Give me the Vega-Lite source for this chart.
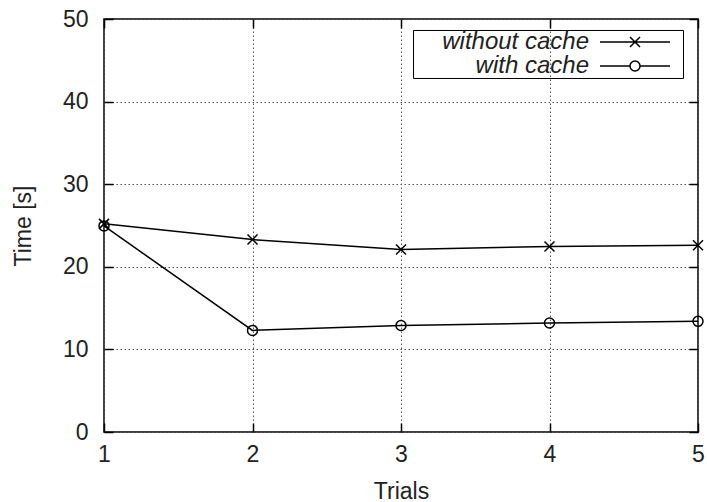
{
  "$schema": "https://vega.github.io/schema/vega-lite/v6.json",
  "width": 594,
  "height": 413,
  "autosize": "none",
  "padding": {"left": 104, "top": 19, "right": 9, "bottom": 70},
  "background": "white",
  "data": {
    "values": [
      {"trial": 1, "time": 25.2, "series": "without cache"},
      {"trial": 2, "time": 23.3, "series": "without cache"},
      {"trial": 3, "time": 22.1, "series": "without cache"},
      {"trial": 4, "time": 22.45, "series": "without cache"},
      {"trial": 5, "time": 22.6, "series": "without cache"},
      {"trial": 1, "time": 24.95, "series": "with cache"},
      {"trial": 2, "time": 12.3, "series": "with cache"},
      {"trial": 3, "time": 12.9, "series": "with cache"},
      {"trial": 4, "time": 13.2, "series": "with cache"},
      {"trial": 5, "time": 13.4, "series": "with cache"}
    ]
  },
  "config": {
    "font": "Liberation Sans",
    "view": {"stroke": "#000", "strokeWidth": 1.5},
    "axis": {
      "labelFont": "Liberation Sans",
      "titleFont": "Liberation Sans",
      "labelFontSize": 23,
      "titleFontSize": 23,
      "labelColor": "#222",
      "titleColor": "#222",
      "titleFontWeight": "normal",
      "domain": false,
      "tickColor": "#000",
      "tickWidth": 1.5,
      "tickSize": -9,
      "gridColor": "#555",
      "gridDash": [1.5, 2.5],
      "gridWidth": 1,
      "gridOpacity": 1
    }
  },
  "layer": [
    {
      "mark": {"type": "line", "strokeWidth": 1.5, "color": "#000"},
      "encoding": {
        "x": {
          "field": "trial", "type": "quantitative",
          "scale": {"domain": [1, 5], "nice": false, "zero": false},
          "axis": {"orient": "bottom", "values": [1, 2, 3, 4, 5], "format": "d", "grid": true, "labelPadding": 20, "labelFlush": false, "title": "Trials", "titleBaseline": "alphabetic", "titleY": 66}
        },
        "y": {
          "field": "time", "type": "quantitative",
          "scale": {"domain": [0, 50], "nice": false},
          "axis": {"orient": "left", "values": [0, 10, 20, 30, 40, 50], "grid": true, "labelPadding": 25, "labelFlush": false, "title": "Time [s]", "titleBaseline": "alphabetic", "titleX": -74}
        },
        "detail": {"field": "series", "type": "nominal"}
      }
    },
    {
      "mark": {"type": "point", "filled": false, "color": "#000", "strokeWidth": 1.5, "opacity": 1},
      "encoding": {
        "x": {
          "field": "trial", "type": "quantitative",
          "axis": {"orient": "top", "values": [1, 2, 3, 4, 5], "labels": false, "grid": false, "title": null}
        },
        "y": {
          "field": "time", "type": "quantitative",
          "axis": {"orient": "right", "values": [0, 10, 20, 30, 40, 50], "labels": false, "grid": false, "title": null}
        },
        "shape": {
          "field": "series", "type": "nominal",
          "scale": {"domain": ["without cache", "with cache"], "range": ["M-1,-1L1,1M-1,1L1,-1", "circle"]},
          "legend": null
        },
        "size": {"value": 100}
      }
    },
    {
      "mark": {"type": "point", "filled": false, "color": "#000", "strokeWidth": 1.5, "opacity": 0},
      "encoding": {
        "x": {"field": "trial", "type": "quantitative", "axis": null},
        "y": {"field": "time", "type": "quantitative", "axis": null},
        "shape": {
          "field": "series", "type": "nominal",
          "scale": {
            "domain": ["without cache", "with cache"],
            "range": [
              "M-7,0L7,0M-1,-1L1,1M-1,1L1,-1M9,0",
              "M-7,0L-1,0M1,0L7,0M1,0A1 1 0 1 1 -1 0A1 1 0 1 1 1 0M9,0"
            ]
          },
          "legend": {
            "title": null,
            "orient": "none",
            "legendX": 309,
            "legendY": 11,
            "padding": 0,
            "strokeColor": "#000",
            "labelFont": "Liberation Sans",
            "labelFontSize": 24,
            "labelFontStyle": "italic",
            "labelColor": "#222",
            "labelAlign": "right",
            "labelOffset": -58,
            "labelLimit": 300,
            "symbolSize": 100,
            "symbolOffset": 210,
            "rowPadding": 0,
            "symbolOpacity": 1,
            "symbolStrokeWidth": 1.5,
            "symbolStrokeColor": "#000",
            "symbolFillColor": "transparent"
          }
        }
      }
    }
  ],
  "resolve": {"axis": {"x": "independent", "y": "independent"}, "scale": {"shape": "independent"}}
}
